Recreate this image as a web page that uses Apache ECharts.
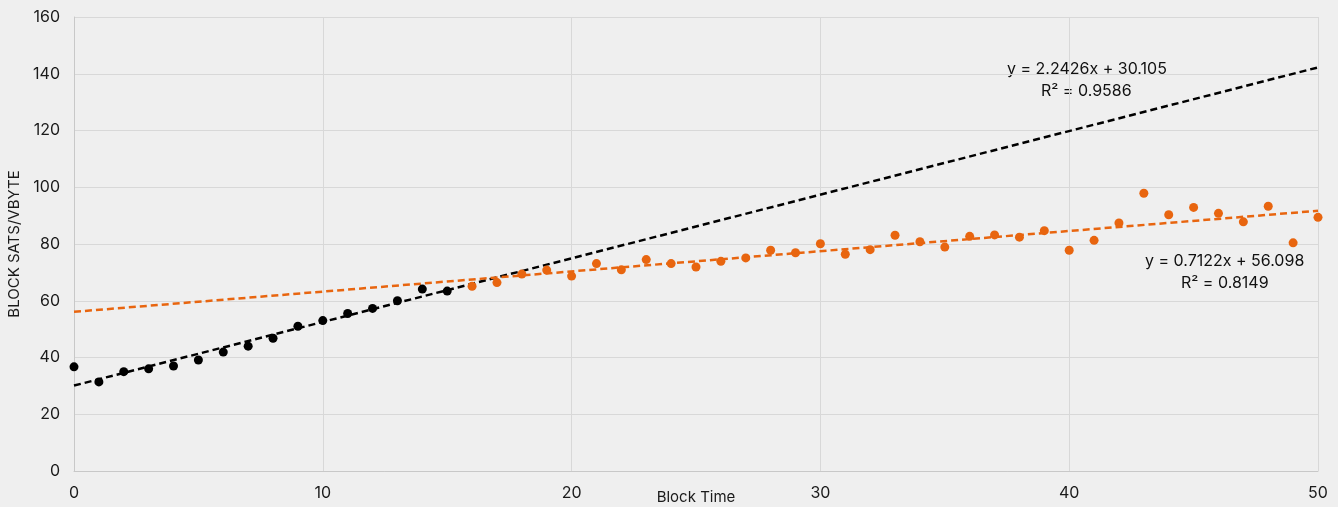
<!DOCTYPE html>
<html>
<head>
<meta charset="utf-8">
<script src="https://cdn.jsdelivr.net/npm/echarts@6/dist/echarts.min.js"></script>
<style>
html,body{margin:0;padding:0;background:#efefef;}
#c{width:1338px;height:507px;}
</style>
</head>
<body>
<div id="c"></div>
<script>
// Data
const blackX = [0,1,2,3,4,5,6,7,8,9,10,11,12,13,14,15];
const blackY = [36.7,31.4,35.0,36.0,37.0,39.1,41.9,44.0,46.8,51.0,53.0,55.5,57.3,60.0,64.1,63.4];
const orangeX = [16,17,18,19,20,21,22,23,24,25,26,27,28,29,30,31,32,33,34,35,36,37,38,39,40,41,42,43,44,45,46,47,48,49,50];
const orangeY = [65.1,66.4,69.4,70.8,68.7,73.1,70.9,74.5,73.1,71.9,73.9,75.1,77.8,76.9,80.1,76.4,78.0,83.1,80.8,78.9,82.7,83.2,82.4,84.7,77.8,81.3,87.4,97.9,90.3,92.9,90.8,87.8,93.3,80.4,89.4];
const blackFit = {slope: 2.2426, intercept: 30.105, r2: 0.9586};
const orangeFit = {slope: 0.7122, intercept: 56.098, r2: 0.8149};
const xRange = [0, 50];
const yTicks = [0,20,40,60,80,100,120,140,160];

const chart = echarts.init(document.getElementById('c'));
const pts = (xs, ys) => xs.map((x,i)=>[x, ys[i]]);
const fitLine = f => xRange.map(x => [x, f.slope*x + f.intercept]);
const black = '#000000';
const orange = '#e8650f';
const font = 'Inter, "Liberation Sans", sans-serif';

chart.setOption({
  backgroundColor: '#efefef',
  animation: false,
  grid: {left: 74, right: 20, top: 17, bottom: 36, containLabel: false, outerBoundsMode: 'none'},
  xAxis: {
    type: 'value', min: 0, max: 50, interval: 10,
    name: 'Block Time', nameLocation: 'middle', nameGap: 19, nameMoveOverlap: false,
    nameTextStyle: {color: '#1a1a1a', fontSize: 15, fontFamily: font},
    axisLine: {show: true, lineStyle: {color: '#c8c8c8', width: 1}},
    axisTick: {show: false},
    axisLabel: {color: '#1a1a1a', fontSize: 16, fontFamily: font, margin: 14},
    splitLine: {show: true, lineStyle: {color: '#d8d8d8', width: 1}}
  },
  yAxis: {
    type: 'value', min: 0, max: 160, interval: 20,
    name: 'BLOCK SATS/VBYTE', nameLocation: 'middle', nameGap: 52, nameMoveOverlap: false,
    nameTextStyle: {color: '#1a1a1a', fontSize: 15, fontFamily: font},
    axisLine: {show: true, lineStyle: {color: '#c8c8c8', width: 1}},
    axisTick: {show: false},
    axisLabel: {color: '#1a1a1a', fontSize: 16, fontFamily: font, margin: 14},
    splitLine: {show: true, lineStyle: {color: '#d8d8d8', width: 1}}
  },
  series: [
    {type: 'line', data: fitLine(blackFit), symbol: 'none', z: 3,
     lineStyle: {color: black, width: 2.5, type: [7,4]}},
    {type: 'line', data: fitLine(orangeFit), symbol: 'none', z: 3,
     lineStyle: {color: orange, width: 2.5, type: [7,4]}},
    {type: 'scatter', data: pts(blackX, blackY), symbolSize: 9, z: 4,
     itemStyle: {color: black, opacity: 1}},
    {type: 'scatter', data: pts(orangeX, orangeY), symbolSize: 9, z: 4,
     itemStyle: {color: orange, opacity: 1}}
  ],
  graphic: [
    {type: 'text', left: 1007, top: 61, style: {text: 'y = ' + blackFit.slope + 'x + ' + blackFit.intercept, fill: '#111', fontSize: 16, fontFamily: font}},
    {type: 'text', left: 1041, top: 83, style: {text: 'R² = ' + blackFit.r2, fill: '#111', fontSize: 16, fontFamily: font}},
    {type: 'text', left: 1145, top: 253, style: {text: 'y = ' + orangeFit.slope + 'x + ' + orangeFit.intercept, fill: '#111', fontSize: 16, fontFamily: font}},
    {type: 'text', left: 1181, top: 275, style: {text: 'R² = ' + orangeFit.r2, fill: '#111', fontSize: 16, fontFamily: font}}
  ]
});
</script>
</body>
</html>
